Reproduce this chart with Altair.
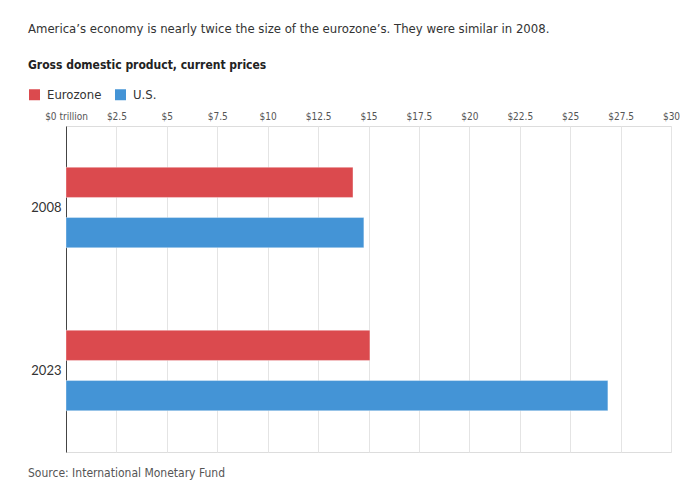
import altair as alt
import pandas as pd

years = ["2008", "2008", "2023", "2023"]
series = ["Eurozone", "U.S.", "Eurozone", "U.S."]
gdp = [14.23, 14.77, 15.07, 26.87]
tick_values = [0, 2.5, 5, 7.5, 10, 12.5, 15, 17.5, 20, 22.5, 25, 27.5, 30]
series_order = ["Eurozone", "U.S."]
colors = ["#db4a4e", "#4494d6"]

title_text = "America\u2019s economy is nearly twice the size of the eurozone\u2019s. They were similar in 2008."
subtitle_text = "Gross domestic product, current prices"
source_text = "Source: International Monetary Fund"

df = pd.DataFrame({"Year": years, "Series": series, "GDP": gdp})

W, H = 605, 326
NARROW = "DejaVu Sans Condensed, Lato"

bars = alt.Chart(df).mark_bar(strokeWidth=1, strokeOpacity=0.35, stroke="#ffffff").encode(
    x=alt.X("GDP:Q",
            scale=alt.Scale(domain=[0, 30], nice=False, zero=True),
            axis=alt.Axis(orient="top", values=tick_values, title=None, domain=False, ticks=False,
                          grid=True, gridColor="#e4e4e4", gridWidth=1, labelOverlap=False,
                          labelFlush=False,
                          labelExpr="datum.value == 0 ? '$0 trillion' : '$' + datum.value",
                          labelFont=NARROW, labelFontSize=10, labelColor="#555555",
                          labelPadding=5)),
    y=alt.Y("Year:N",
            scale=alt.Scale(paddingInner=0, paddingOuter=0),
            axis=alt.Axis(title=None, ticks=False, domain=True, domainColor="#444444", domainWidth=1,
                          grid=False, labelFont="Lato", labelFontSize=13,
                          labelColor="#333333", labelPadding=5)),
    yOffset=alt.YOffset("Series:N", sort=series_order,
                        scale=alt.Scale(paddingInner=0.4, paddingOuter=0.82)),
    color=alt.Color("Series:N", sort=series_order,
                    scale=alt.Scale(domain=series_order, range=colors),
                    legend=alt.Legend(title=None, orient="none", legendX=-38, legendY=-38,
                                      direction="horizontal", symbolType="square", symbolSize=121,
                                      symbolStrokeWidth=0, labelFont=NARROW, labelFontSize=13,
                                      labelColor="#333333", labelOffset=6, columnPadding=12)),
)

title_df = pd.DataFrame({"t": [title_text]})
title = alt.Chart(title_df).mark_text(align="left", baseline="middle", font=NARROW, fontSize=13,
                                      color="#333333").encode(
    x=alt.value(-38), y=alt.value(-97), text="t:N")

sub_df = pd.DataFrame({"t": [subtitle_text]})
subtitle = alt.Chart(sub_df).mark_text(align="left", baseline="middle", font=NARROW, fontSize=12,
                                       fontWeight="bold", color="#222222").encode(
    x=alt.value(-38), y=alt.value(-61), text="t:N")

src_df = pd.DataFrame({"t": [source_text]})
source = alt.Chart(src_df).mark_text(align="left", baseline="middle", font=NARROW, fontSize=12,
                                     color="#555555").encode(
    x=alt.value(-38), y=alt.value(H + 21), text="t:N")

chart = alt.layer(bars, title, subtitle, source).properties(
    width=W, height=H,
    autosize=alt.AutoSizeParams(type="none"),
    padding={"left": 58, "top": 118, "right": 11, "bottom": 34},
).configure_view(stroke=None).configure(background="white")

chart.save("out.html", embed_options={"renderer": "svg", "actions": False})
